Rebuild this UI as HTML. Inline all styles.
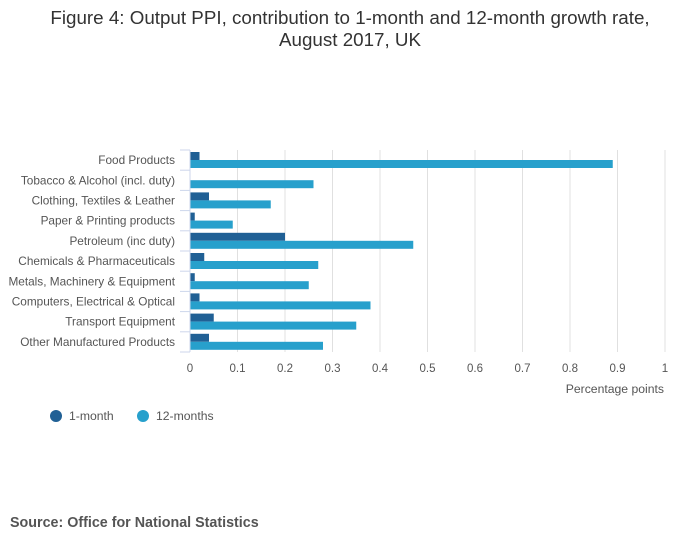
<!DOCTYPE html>
<html><head><meta charset="utf-8"><style>
body{margin:0;background:#fff;font-family:"Liberation Sans",sans-serif;}
svg text{font-family:"Liberation Sans",sans-serif;}
</style></head><body>
<svg id="c" width="700" height="549">
<text x="350" y="24" text-anchor="middle" font-size="18.8" fill="#333">Figure 4: Output PPI, contribution to 1-month and 12-month growth rate,</text>
<text x="350" y="46" text-anchor="middle" font-size="18.8" fill="#333">August 2017, UK</text>
<g id="grid"></g><g id="bars"></g><g id="axes"></g>
<text x="664" y="393" text-anchor="end" font-size="12.2" fill="#555">Percentage points</text>
<g>
<circle cx="56" cy="416" r="6" fill="#206095"/>
<text x="69" y="420" font-size="12.2" fill="#555">1-month</text>
<circle cx="143" cy="416" r="6" fill="#27a0cc"/>
<text x="156" y="420" font-size="12.2" fill="#555">12-months</text>
</g>
<text x="10" y="527" font-size="14.3" font-weight="bold" fill="#555">Source: Office for National Statistics</text>
</svg>
<script>
const categories=["Food Products","Tobacco & Alcohol (incl. duty)","Clothing, Textiles & Leather","Paper & Printing products","Petroleum (inc duty)","Chemicals & Pharmaceuticals","Metals, Machinery & Equipment","Computers, Electrical & Optical","Transport Equipment","Other Manufactured Products"];
const oneMonth=[0.02,0,0.04,0.01,0.2,0.03,0.01,0.02,0.05,0.04];
const twelveMonths=[0.89,0.26,0.17,0.09,0.47,0.27,0.25,0.38,0.35,0.28];
const xTicks=[0,0.1,0.2,0.3,0.4,0.5,0.6,0.7,0.8,0.9,1];
const NS="http://www.w3.org/2000/svg";
const x0=190,x1=665,yTop=150,band=20.2;
const xs=v=>x0+(x1-x0)*v;
const ys=i=>yTop+i*band;
function mk(t,a,p){const e=document.createElementNS(NS,t);for(const k in a)e.setAttribute(k,a[k]);p.appendChild(e);return e;}
const grid=document.getElementById('grid'),bars=document.getElementById('bars'),axes=document.getElementById('axes');
xTicks.forEach(v=>{
 if(v>0){const l=mk('line',{x1:xs(v),x2:xs(v),y1:yTop,y2:yTop+band*categories.length,stroke:'#e0e0e0','stroke-width':1},grid);
 
 }
 const t=mk('text',{x:xs(v),y:372,'text-anchor':'middle','font-size':11.5,fill:'#555'},axes);t.textContent=v;
 
 
});
const ax=mk('line',{x1:x0,x2:x0,y1:yTop,y2:yTop+band*categories.length,stroke:'#ccd6eb','stroke-width':1},axes);


for(let i=0;i<=categories.length;i++){
 const tk=mk('line',{x1:x0-10,x2:x0,y1:ys(i),y2:ys(i),stroke:'#ccd6eb','stroke-width':1},axes);
 
 
}
categories.forEach((c,i)=>{
 const t=mk('text',{x:175,y:ys(i)+band/2+4,'text-anchor':'end','font-size':11.8,fill:'#555'},axes);t.textContent=c;
 
 
 const b1=mk('rect',{x:x0,y:ys(i)+2,width:Math.max(0,xs(oneMonth[i])-x0),height:8,fill:'#206095'},bars);
 
 
 const b2=mk('rect',{x:x0,y:ys(i)+10,width:xs(twelveMonths[i])-x0,height:8,fill:'#27a0cc'},bars);
 
 
});
</script>
</body></html>
